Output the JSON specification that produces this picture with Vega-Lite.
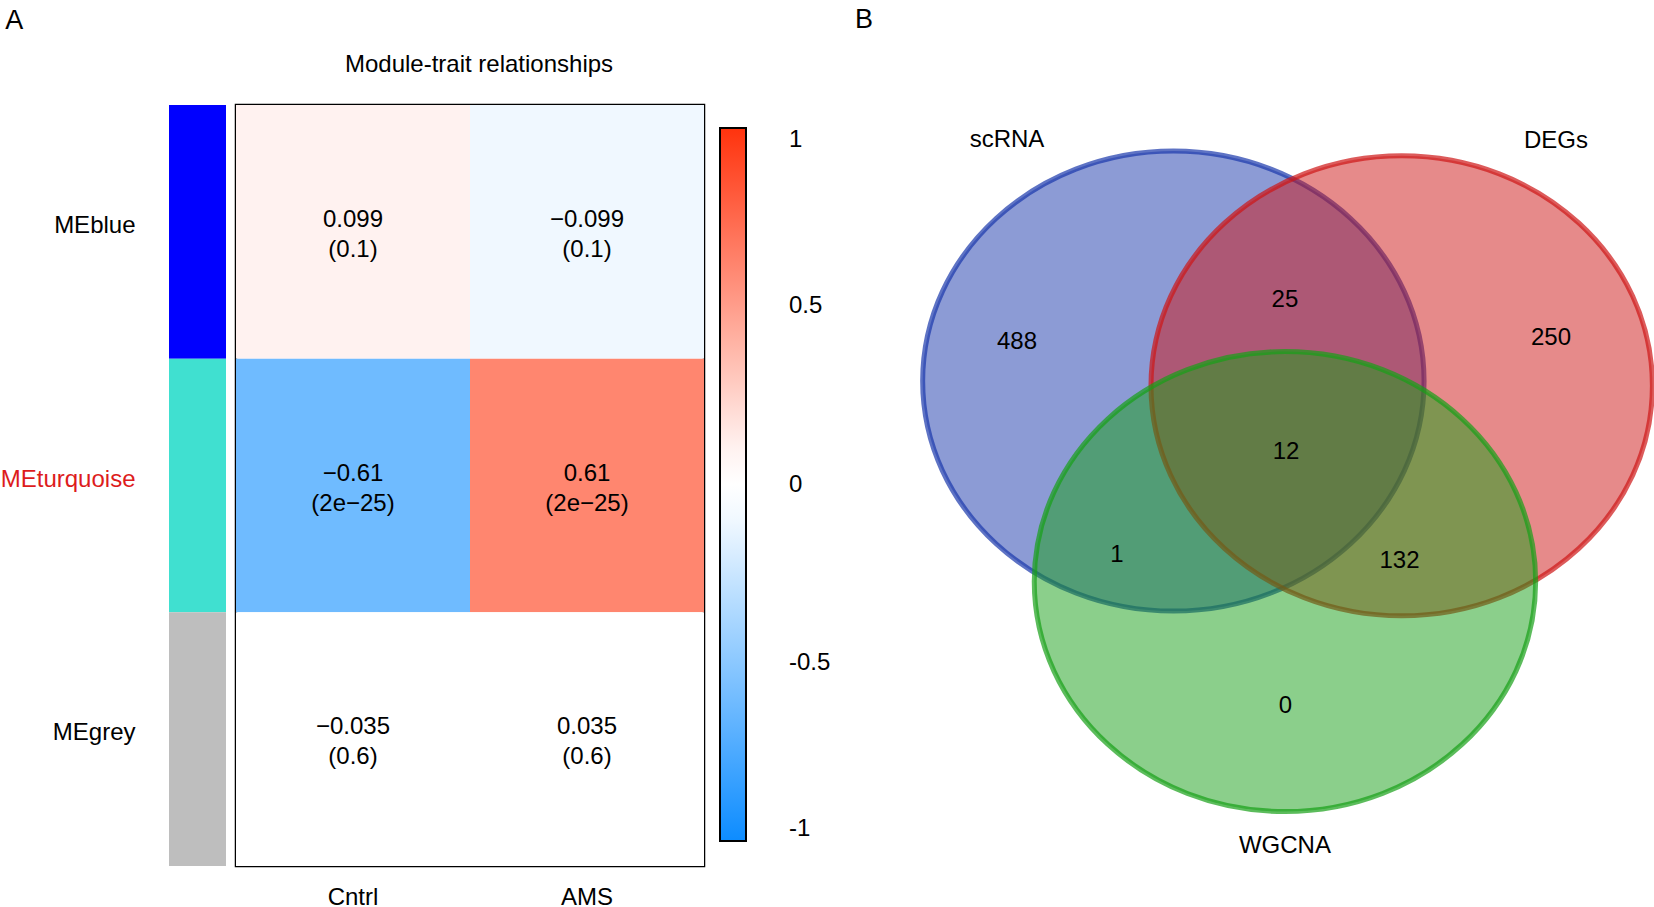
{
  "$schema": "https://vega.github.io/schema/vega-lite/v6.json",
  "background": "white",
  "padding": {"top": 6, "left": 0, "right": 0, "bottom": 0},
  "config": {
    "font": "Liberation Sans",
    "view": {"stroke": null},
    "axis": {"labelColor": "black"},
    "legend": {"labelColor": "black"}
  },
  "spacing": 8,
  "resolve": {"scale": {"x": "independent", "y": "independent", "fill": "independent", "stroke": "independent"}},
  "hconcat": [
    {
      "width": 57,
      "height": 761,
      "title": {"text": "A", "anchor": "start", "frame": "bounds", "fontSize": 27, "fontWeight": "normal", "offset": 70, "dx": 5, "color": "black"},
      "data": {"values": [{"module": "MEblue"}, {"module": "MEturquoise"}, {"module": "MEgrey"}]},
      "mark": {"type": "rect"},
      "encoding": {
        "y": {
          "field": "module", "type": "nominal", "sort": ["MEblue", "MEturquoise", "MEgrey"],
          "scale": {"paddingInner": 0, "paddingOuter": 0},
          "axis": {
            "title": null, "domain": false, "ticks": false, "labelPadding": 34, "labelFontSize": 24, "labelOffset": -6,
            "labelColor": {"condition": {"test": "datum.value === 'MEturquoise'", "value": "#DD1C1C"}, "value": "black"}
          }
        },
        "fill": {
          "field": "module", "type": "nominal",
          "scale": {"domain": ["MEblue", "MEturquoise", "MEgrey"], "range": ["#0000FF", "#40E0D0", "#BEBEBE"]},
          "legend": null
        }
      }
    },
    {
      "width": 468,
      "height": 761,
      "title": {"text": "Module-trait relationships", "fontSize": 24, "fontWeight": "normal", "offset": 28, "dx": 9, "color": "black"},
      "view": {"stroke": "black", "strokeWidth": 2.5},
      "data": {"values": [
        {"module": "MEblue", "trait": "Cntrl", "r": 0.099, "label": "0.099\n(0.1)"},
        {"module": "MEblue", "trait": "AMS", "r": -0.099, "label": "−0.099\n(0.1)"},
        {"module": "MEturquoise", "trait": "Cntrl", "r": -0.61, "label": "−0.61\n(2e−25)"},
        {"module": "MEturquoise", "trait": "AMS", "r": 0.61, "label": "0.61\n(2e−25)"},
        {"module": "MEgrey", "trait": "Cntrl", "r": -0.035, "label": "−0.035\n(0.6)"},
        {"module": "MEgrey", "trait": "AMS", "r": 0.035, "label": "0.035\n(0.6)"}
      ]},
      "encoding": {
        "x": {
          "field": "trait", "type": "nominal", "sort": ["Cntrl", "AMS"],
          "scale": {"paddingInner": 0, "paddingOuter": 0},
          "axis": {"title": null, "domain": false, "ticks": false, "labelAngle": 0, "labelPadding": 19, "labelFontSize": 24, "orient": "bottom"}
        },
        "y": {
          "field": "module", "type": "nominal", "sort": ["MEblue", "MEturquoise", "MEgrey"],
          "scale": {"paddingInner": 0, "paddingOuter": 0},
          "axis": null
        }
      },
      "layer": [
        {
          "mark": {"type": "rect"},
          "encoding": {
            "fill": {
              "field": "r", "type": "quantitative",
              "scale": {"domain": [-1, -0.04, 0.04, 1], "range": ["#0D8CFF", "#FFFFFF", "#FFFFFF", "#FF330D"], "interpolate": "rgb"},
              "legend": {
                "orient": "none", "legendX": 470, "legendY": 9, "padding": 14, "direction": "vertical", "title": null,
                "gradientLength": 713, "gradientThickness": 26, "gradientStrokeColor": "black", "gradientStrokeWidth": 2,
                "values": [-1, -0.5, 0, 0.5, 1], "labelFontSize": 24, "labelOffset": 43,
                "labelExpr": "'' + datum.value", "labelOverlap": false
              }
            }
          }
        },
        {
          "mark": {"type": "text", "fontSize": 24, "lineBreak": "\n", "lineHeight": 30, "dy": -12, "color": "black", "align": "center", "baseline": "middle"},
          "encoding": {"text": {"field": "label", "type": "nominal"}}
        }
      ]
    },
    {
      "width": 744,
      "height": 780,
      "title": {"text": "B", "anchor": "start", "frame": "group", "fontSize": 27, "fontWeight": "normal", "offset": 71, "dx": -57, "color": "black"},
      "layer": [
        {
          "data": {"values": [
            {"set": "scRNA", "cx": 3.513, "cy": 3.54},
            {"set": "DEGs", "cx": 6.582, "cy": 3.6},
            {"set": "WGCNA", "cx": 5.013, "cy": 6.11}
          ]},
          "mark": {
            "type": "point",
            "shape": "M -1.09 0 C -1.09 -0.552 -0.602 -1 0 -1 C 0.602 -1 1.09 -0.552 1.09 0 C 1.09 0.552 0.602 1 0 1 C -0.602 1 -1.09 0.552 -1.09 0 Z",
            "size": 211600, "filled": true, "opacity": 1, "fillOpacity": 0.5, "strokeOpacity": 0.7, "strokeWidth": 5
          },
          "encoding": {
            "x": {"field": "cx", "type": "quantitative", "scale": {"domain": [0, 10]}, "axis": null},
            "y": {"field": "cy", "type": "quantitative", "scale": {"domain": [0, 10], "reverse": true}, "axis": null},
            "fill": {"field": "set", "type": "nominal", "scale": {"domain": ["scRNA", "DEGs", "WGCNA"], "range": ["#1A37AB", "#CD1515", "#179F17"]}, "legend": null},
            "stroke": {"field": "set", "type": "nominal", "scale": {"domain": ["scRNA", "DEGs", "WGCNA"], "range": ["#1A37AB", "#CD1515", "#179F17"]}, "legend": null}
          }
        },
        {
          "data": {"values": [
            {"text": "scRNA", "tx": 1.277, "ty": 0.449},
            {"text": "DEGs", "tx": 8.656, "ty": 0.462},
            {"text": "WGCNA", "tx": 5.013, "ty": 9.5},
            {"text": "488", "tx": 1.411, "ty": 3.04},
            {"text": "25", "tx": 5.013, "ty": 2.5},
            {"text": "250", "tx": 8.589, "ty": 2.99},
            {"text": "12", "tx": 5.027, "ty": 4.45},
            {"text": "1", "tx": 2.755, "ty": 5.77},
            {"text": "132", "tx": 6.552, "ty": 5.85},
            {"text": "0", "tx": 5.02, "ty": 7.71}
          ]},
          "mark": {"type": "text", "fontSize": 24, "color": "black", "align": "center", "baseline": "middle"},
          "encoding": {
            "x": {"field": "tx", "type": "quantitative", "scale": {"domain": [0, 10]}, "axis": null},
            "y": {"field": "ty", "type": "quantitative", "scale": {"domain": [0, 10], "reverse": true}, "axis": null},
            "text": {"field": "text", "type": "nominal"}
          }
        }
      ]
    }
  ]
}
